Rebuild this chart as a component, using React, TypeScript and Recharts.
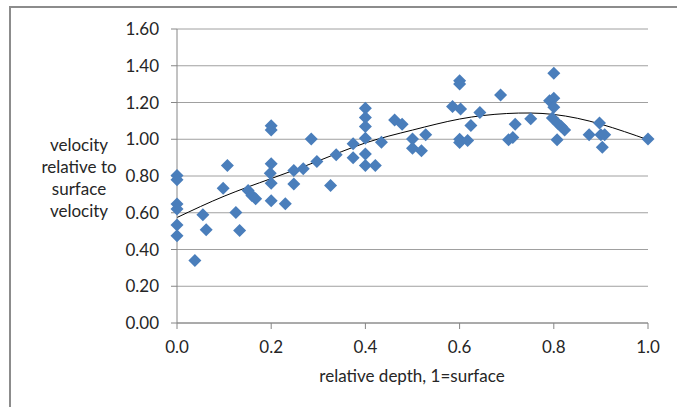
import React from 'react';
import { ComposedChart, Scatter, Line, XAxis, YAxis, CartesianGrid } from 'recharts';

// relative depth (1 = surface) for each measurement
const depth = [
  0, 0, 0, 0, 0, 0, 0.038, 0.055, 0.062, 0.098, 0.107, 0.125, 0.133, 0.151, 0.159, 0.167,
  0.2, 0.2, 0.2, 0.198, 0.2, 0.2, 0.23, 0.248, 0.248, 0.268, 0.285, 0.297, 0.326, 0.338,
  0.374, 0.374, 0.4, 0.4, 0.4, 0.4, 0.4, 0.4, 0.421, 0.434, 0.462, 0.478, 0.5, 0.5, 0.519,
  0.528, 0.585, 0.6, 0.6, 0.602, 0.6, 0.6, 0.617, 0.624, 0.643, 0.687, 0.704, 0.713, 0.718,
  0.751, 0.8, 0.791, 0.8, 0.8, 0.797, 0.809, 0.807, 0.816, 0.823, 0.875, 0.897, 0.9, 0.908,
  0.903, 1.0,
];

// velocity relative to surface velocity
const velocity = [
  0.803, 0.779, 0.647, 0.621, 0.534, 0.475, 0.34, 0.589, 0.507, 0.734, 0.857, 0.601, 0.504,
  0.721, 0.694, 0.676, 1.073, 1.051, 0.866, 0.815, 0.761, 0.665, 0.649, 0.83, 0.756, 0.839,
  1.002, 0.879, 0.748, 0.915, 0.975, 0.9, 1.169, 1.118, 1.069, 1.006, 0.92, 0.857, 0.857,
  0.984, 1.105, 1.082, 1.002, 0.951, 0.937, 1.024, 1.178, 1.319, 1.301, 1.164, 1.0, 0.982,
  0.993, 1.075, 1.145, 1.241, 0.997, 1.009, 1.082, 1.111, 1.359, 1.209, 1.223, 1.174, 1.115,
  1.084, 0.997, 1.069, 1.051, 1.024, 1.088, 1.024, 1.024, 0.957, 1.002,
];

// trendline
const trendDepth = [0, 0.1, 0.2, 0.3, 0.4, 0.5, 0.6, 0.7, 0.8, 0.9, 1.0];
const trendVelocity = [0.574, 0.69, 0.786, 0.882, 0.98, 1.05, 1.11, 1.14, 1.135, 1.082, 0.997];

const xTicks = [0, 0.2, 0.4, 0.6, 0.8, 1.0];
const yTicks = [0, 0.2, 0.4, 0.6, 0.8, 1.0, 1.2, 1.4, 1.6];
const yTitle = ['velocity', 'relative to', 'surface', 'velocity'];
const xTitle = 'relative depth, 1=surface';

const points = depth.map((x, i) => ({ x, y: velocity[i] }));
const trend = trendDepth.map((x, i) => ({ x, y: trendVelocity[i] }));

const FONT = 'Lato, "DejaVu Sans", sans-serif';
const BLUE = '#4a7ebb';
const TEXT = '#262626';

const Diamond = (props: any) => {
  const { cx, cy } = props;
  const r = 6.5;
  return (
    <polygon
      points={`${cx},${cy - r} ${cx + r},${cy} ${cx},${cy + r} ${cx - r},${cy}`}
      fill={BLUE}
    />
  );
};

export default function App() {
  return (
    <div style={{ position: 'absolute', left: 0, top: 0, width: 677, height: 407, background: '#fff', overflow: 'hidden' }}>
      <div
        style={{
          position: 'absolute',
          left: 9,
          top: 6,
          width: 700,
          height: 420,
          borderLeft: '2px solid #8c8c8c',
          borderTop: '2px solid #8c8c8c',
        }}
      />
      <div style={{ position: 'absolute', left: 0, top: 0 }}>
        <ComposedChart width={677} height={407} margin={{ top: 29, right: 29, bottom: 24, left: 0 }}>
          <CartesianGrid vertical={false} stroke="#a0a0a0" />
          <XAxis
            type="number"
            dataKey="x"
            domain={[0, 1]}
            ticks={xTicks}
            tickFormatter={(v: number) => v.toFixed(1)}
            height={60}
            tickSize={6}
            tickMargin={12}
            stroke="#868686"
            tick={{ fill: TEXT, fontSize: 17, fontFamily: FONT }}
            interval={0}
            label={{
              content: () => (
                <text x={412} y={382} textAnchor="middle" fill={TEXT} fontSize={17} fontFamily={FONT}>
                  {xTitle}
                </text>
              ),
            }}
          />
          <YAxis
            type="number"
            dataKey="y"
            domain={[0, 1.6]}
            ticks={yTicks}
            tickFormatter={(v: number) => v.toFixed(2)}
            width={177}
            tickSize={6}
            tickMargin={12}
            stroke="#868686"
            tick={{ fill: TEXT, fontSize: 17, fontFamily: FONT }}
            interval={0}
            label={{
              content: () => (
                <text textAnchor="middle" fill={TEXT} fontSize={17} fontFamily={FONT}>
                  {yTitle.map((t, i) => (
                    <tspan key={i} x={79} y={151 + i * 22}>
                      {t}
                    </tspan>
                  ))}
                </text>
              ),
            }}
          />
          <Scatter data={points} dataKey="y" shape={Diamond} isAnimationActive={false} />
          <Line
            data={trend}
            dataKey="y"
            type="natural"
            stroke="#000"
            strokeWidth={1}
            dot={false}
            activeDot={false}
            isAnimationActive={false}
          />
        </ComposedChart>
      </div>
    </div>
  );
}
